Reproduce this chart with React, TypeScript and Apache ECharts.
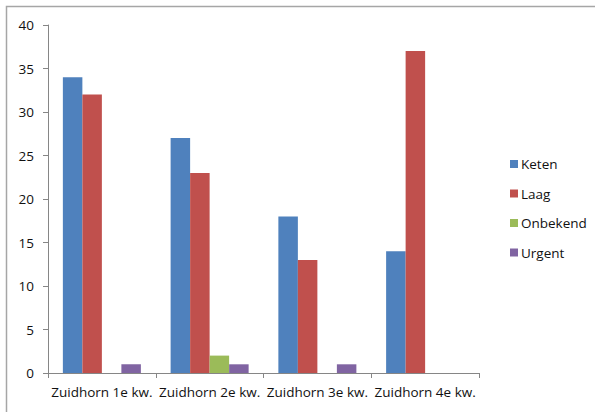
import React, { useEffect, useRef } from "react";
import * as echarts from "echarts";

const categories = ["Zuidhorn 1e kw.", "Zuidhorn 2e kw.", "Zuidhorn 3e kw.", "Zuidhorn 4e kw."];
const seriesNames = ["Keten", "Laag", "Onbekend", "Urgent"];
const keten = [34, 27, 18, 14];
const laag = [32, 23, 13, 37];
const onbekend = [0, 2, 0, 0];
const urgent = [1, 1, 1, 0];
const colors = ["#4F81BD", "#C0504D", "#9BBB59", "#8064A2"];

export default function App() {
  const ref = useRef<HTMLDivElement>(null);
  useEffect(() => {
    if (!ref.current) return;
    const chart = echarts.init(ref.current, undefined, { renderer: "svg" });
    const font = "'Open Sans', sans-serif";
    const data = [keten, laag, onbekend, urgent];
    chart.setOption({
      animation: false,
      color: colors,
      textStyle: { fontFamily: font },
      graphic: [
        {
          type: "rect",
          shape: { x: 6.5, y: 6.5, width: 620, height: 440 },
          style: { fill: "none", stroke: "#A6A6A6", lineWidth: 1.5 },
          silent: true,
        },
      ],
      grid: { left: 48, top: 25, right: 116, bottom: 39 },
      legend: {
        orient: "vertical",
        left: 505,
        top: 152,
        itemWidth: 8,
        itemHeight: 8,
        itemGap: 15.5,
        icon: "rect",
        textStyle: { fontFamily: font, fontSize: 13.5, color: "#111", padding: [0, 0, 0, -2] },
        data: seriesNames,
      },
      xAxis: {
        type: "category",
        data: categories,
        axisLine: { lineStyle: { color: "#868686", width: 1 } },
        axisTick: { show: true, length: 5, lineStyle: { color: "#868686" } },
        axisLabel: { color: "#111", fontSize: 13.5, fontFamily: font, margin: 12, interval: 0 },
        splitLine: { show: false },
      },
      yAxis: {
        type: "value",
        min: 0,
        max: 40,
        interval: 5,
        axisLine: { show: true, lineStyle: { color: "#868686", width: 1 } },
        axisTick: { show: true, length: 5, lineStyle: { color: "#868686" } },
        axisLabel: { color: "#111", fontSize: 13.5, fontFamily: font, margin: 14 },
        splitLine: { show: false },
      },
      series: seriesNames.map((name, i) => ({
        name,
        type: "bar",
        data: data[i],
        barGap: "0%",
        barCategoryGap: "27.6%",
      })),
    });
    return () => chart.dispose();
  }, []);
  return (
    <div
      ref={ref}
      style={{ position: "absolute", left: 0, top: 0, width: 595, height: 412, background: "#fff" }}
    />
  );
}
